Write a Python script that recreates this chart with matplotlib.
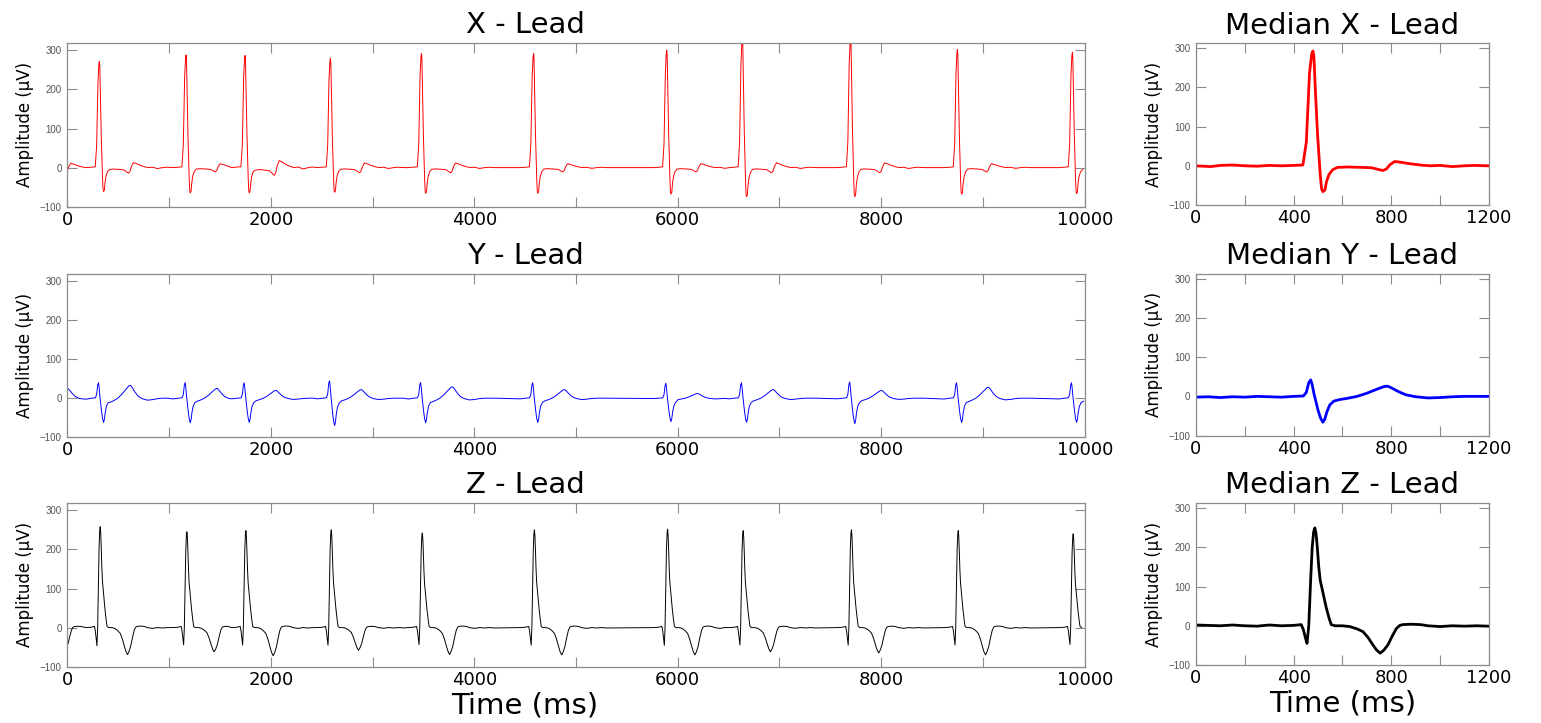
import numpy as np
import matplotlib.pyplot as plt

# median beats, time in ms (R peak near 480 ms), amplitude in uV
med_x_t = [0, 30, 60, 100, 150, 200, 250, 300, 350, 400, 438, 452, 465, 474, 479, 483, 490, 498,
           505, 510, 515, 520, 528, 535, 545, 560, 580, 620, 680, 720, 745, 766, 780, 795, 814,
           840, 880, 920, 960, 1000, 1050, 1100, 1140, 1200]
med_x_v = [0, -1, -2, 1, 2, 0, -1, 1, 0, 1, 2, 60, 236, 285, 293, 280, 180, 80,
           15, -30, -60, -66, -62, -40, -22, -10, -4, -3, -4, -5, -9, -12, -8, 3, 11,
           9, 5, 2, 0, 1, -2, 0, 1, 0]

med_y_t = [0, 50, 100, 150, 200, 250, 300, 350, 400, 440, 452, 462, 470, 476, 484, 492, 500,
           510, 520, 528, 536, 548, 565, 590, 620, 660, 700, 740, 770, 785, 800, 830, 860,
           900, 950, 1000, 1050, 1100, 1150, 1200]
med_y_v = [-2, -1, -3, -1, -2, 0, -1, -2, 0, 1, 10, 35, 42, 30, 5, -15, -35,
           -55, -66, -58, -40, -22, -12, -8, -5, 0, 8, 18, 25, 26, 22, 12, 4,
           -1, -4, -3, -1, 0, 0, 0]

med_z_t = [0, 50, 100, 150, 200, 250, 300, 350, 400, 431, 440, 448, 455, 462, 470, 476, 482,
           487, 492, 497, 503, 509, 520, 533, 545, 554, 570, 600, 630, 660, 684, 705, 725,
           740, 755, 770, 786, 805, 821, 835, 848, 880, 920, 950, 1000, 1050, 1100, 1150, 1200]
med_z_v = [2, 1, 0, 2, 0, -1, 2, 0, 1, 3, -10, -30, -45, 0, 120, 200, 240,
           250, 235, 200, 150, 116, 85, 48, 20, 3, 0, 0, -2, -8, -15, -30, -49,
           -62, -70, -62, -49, -25, -7, 1, 3, 4, 3, 0, -2, 0, -1, 0, -1]

# R peak of each beat in the 10 s record (first one is the beat before the record)
beat_ms = [-300, 316, 1168, 1748, 2587, 3482, 4584, 5893, 6636, 7700, 8750, 9880]

# per-beat QRS size and T-wave peak (uV)
x_r_amp = [290, 272, 288, 287, 280, 292, 292, 300, 330, 330, 302, 295]
x_t_amp = [11, 13, 10, 18, 12, 12, 10, 10, 12, 12, 10, 13]
y_s_amp = [-63, -62, -63, -62, -70, -63, -62, -60, -62, -65, -62, -62]
y_t_amp = [25, 33, 25, 20, 22, 29, 22, 12, 22, 20, 28, 25]
z_r_amp = [250, 258, 245, 248, 250, 242, 250, 252, 248, 250, 248, 240]
z_t_amp = [-60, -69, -62, -72, -58, -69, -70, -70, -62, -65, -70, -65]

R_REF = 480
rec_end = 10000


def long_trace(tt, vv, ref_r, ref_t, r_amp, t_amp):
    dt = np.asarray(tt, float) - R_REF
    vv = np.asarray(vv, float)
    in_qrs = (dt > -60) & (dt < 100)
    ts, vs = [], []
    for k, r in enumerate(beat_ms):
        lo = 0 if k == 0 else r - 150
        hi = beat_ms[k + 1] - 150 if k + 1 < len(beat_ms) else rec_end
        sel = (r + dt >= lo) & (r + dt < hi)
        scale = np.where(in_qrs, r_amp[k] / ref_r, t_amp[k] / ref_t)
        ts.extend(r + dt[sel])
        vs.extend((vv * scale)[sel])
    return ts, vs


leads = [
    ("X", "red", med_x_t, med_x_v, 293, 11, x_r_amp, x_t_amp),
    ("Y", "blue", med_y_t, med_y_v, -66, 26, y_s_amp, y_t_amp),
    ("Z", "black", med_z_t, med_z_v, 250, -70, z_r_amp, z_t_amp),
]

fig = plt.figure(figsize=(15.41, 7.23), dpi=100)
left_bottoms = [0.7141, 0.3952, 0.0779]
right_bottoms = [0.7165, 0.3976, 0.0803]

frame_col = "#8c8c8c"


def style(ax, xmax, step, label_every):
    ax.set_ylim(-100, 319)
    ax.set_xlim(0, xmax)
    ax.set_yticks([-100, 0, 100, 200, 300])
    ticks = np.arange(0, xmax + 1, step)
    ax.set_xticks(ticks)
    ax.set_xticklabels([str(int(t)) if t % label_every == 0 else "" for t in ticks])
    ax.tick_params(direction="in", length=7, width=0.8, color=frame_col, top=True, right=True)
    ax.tick_params(axis="x", labelsize=13, pad=3)
    ax.tick_params(axis="y", labelsize=7, labelcolor="#555555", pad=4)
    for lbl in ax.get_yticklabels():
        lbl.set_family("Liberation Sans")
    for sp in ax.spines.values():
        sp.set_color(frame_col)
        sp.set_linewidth(0.9)
    ax.set_ylabel("Amplitude (\u00b5V)", fontsize=12, labelpad=4)


for i, (name, col, mt, mv, ref_r, ref_t, ra, ta) in enumerate(leads):
    axl = fig.add_axes([0.0437, left_bottoms[i], 0.6602, 0.2265])
    ts, vs = long_trace(mt, mv, ref_r, ref_t, ra, ta)
    axl.plot(ts, vs, color=col, lw=0.7)
    style(axl, 10000, 1000, 2000)
    axl.set_title(name + " - Lead", fontsize=21, pad=7, x=0.45)

    axr = fig.add_axes([0.7761, right_bottoms[i], 0.1901, 0.2237])
    axr.plot(mt, mv, color=col, lw=2.0)
    style(axr, 1200, 200, 400)
    axr.set_ylim(-100, 313)
    axr.set_title("Median " + name + " - Lead", fontsize=21, pad=7)

    if i == 2:
        axl.set_xlabel("Time (ms)", fontsize=21, labelpad=2, x=0.45)
        axr.set_xlabel("Time (ms)", fontsize=21, labelpad=2)

fig.savefig("out.png", dpi=100)
